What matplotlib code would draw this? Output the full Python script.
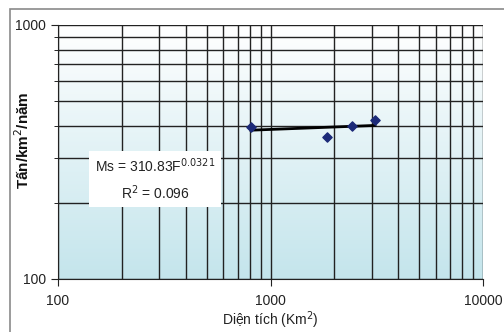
import numpy as np
import matplotlib
matplotlib.use("Agg")
import matplotlib.pyplot as plt
from matplotlib.patches import Rectangle
from matplotlib.colors import LinearSegmentedColormap

# Data
area = [809, 1845, 2421, 3105]          # Diện tích (Km2)
sediment = [398, 363, 400, 423]         # Tấn/km2/năm
coef_a = 310.83
coef_b = 0.0321
r2 = 0.096
xticks = [100, 1000, 10000]
yticks = [100, 1000]

plt.rcParams['font.family'] = ['Liberation Sans', 'DejaVu Sans']

fig = plt.figure(figsize=(5.04, 3.32), dpi=100)
W, H = 504, 332
ax = fig.add_axes([58 / W, 1 - 279 / H, (483 - 58) / W, (279 - 25) / H])

# outer frame
fig.patches.append(Rectangle((10 / W, -0.1), 1.2, 1 - 8.5 / H + 0.1, transform=fig.transFigure,
                             fill=False, edgecolor='#8a8a8a', linewidth=1.2, zorder=0))

ax.set_xscale('log')
ax.set_yscale('log')
ax.set_xlim(xticks[0], xticks[-1])
ax.set_ylim(yticks[0], yticks[-1])

# gradient background
cmap = LinearSegmentedColormap.from_list('g', ['#c4e5ec', '#ffffff'])
grad = np.linspace(0, 1, 256).reshape(-1, 1)
ax.imshow(grad, aspect='auto', cmap=cmap, extent=[0, 1, 0, 1], origin='lower',
          transform=ax.transAxes, zorder=0)

ax.grid(True, which='both', color='#222222', linewidth=1.0, zorder=1)
ax.set_axisbelow(True)

# trendline
xf = np.linspace(min(area), max(area), 50)
ax.plot(xf, coef_a * xf ** coef_b, color='black', linewidth=2.0, zorder=3)

ax.scatter(area, sediment, marker='D', s=22, color='#1c2a78', zorder=4)

ax.set_xticks(xticks)
ax.set_xticklabels([str(t) for t in xticks])
ax.set_yticks(yticks)
ax.set_yticklabels([str(t) for t in yticks])
ax.tick_params(axis='both', which='major', labelsize=10, length=5, color='#222222',
               labelcolor='#222222')
ax.tick_params(axis='x', which='minor', length=0, labelbottom=False)
ax.tick_params(axis='y', which='minor', length=3, labelleft=False)
ax.tick_params(axis='x', pad=6)
for s in ['top', 'right']:
    ax.spines[s].set_visible(False)
for s in ['left', 'bottom']:
    ax.spines[s].set_color('#222222')

ax.set_xlabel('Diện tích (Km$^2$)', fontsize=10, color='#222222', labelpad=1)
fig.text(23 / W, 1 - 140 / H, 'Tấn/km$^2$/năm', rotation=90, ha='center', va='center',
         fontsize=11, fontweight='bold', color='#111111')

ax.text(155 / W, 1 - 179 / H,
        'Ms = %.2fF$^{%s}$\nR$^2$ = %.3f' % (coef_a, '%.4f' % coef_b, r2),
        transform=fig.transFigure, ha='center', va='center', fontsize=10,
        color='#222222', linespacing=1.55,
        bbox=dict(boxstyle='square,pad=0.4', facecolor='white', edgecolor='none'),
        zorder=5)

fig.savefig('out.png', dpi=100)
